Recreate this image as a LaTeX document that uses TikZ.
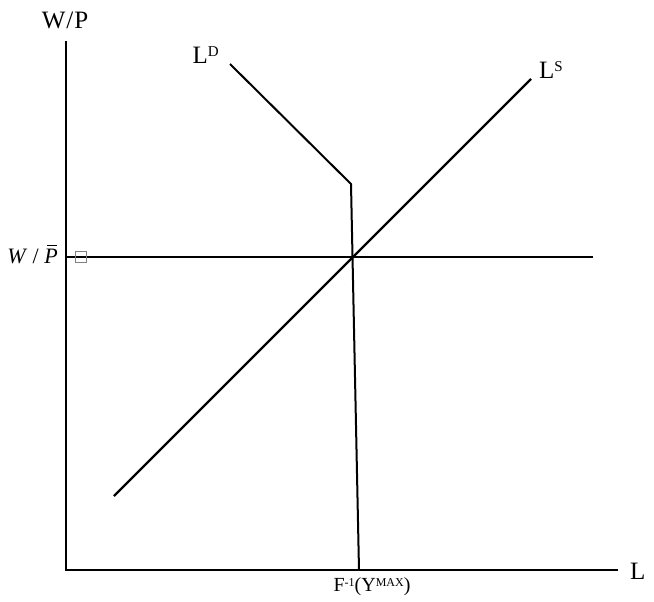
\documentclass[tikz,border=0pt]{standalone}
\usepackage{fontspec}
\setmainfont{Liberation Serif}
\usetikzlibrary{positioning}
% small capital raised so its top meets the capital height
\newcommand{\capsup}[3]{\raisebox{#2}{\fontsize{#1}{#1}\selectfont #3}}
% italic P with a bar drawn over it
\newcommand{\barP}{\ooalign{\textit{P}\cr\hidewidth\kern2pt\raisebox{17pt}{\rule{10pt}{1.2pt}}\hidewidth\cr}}

\begin{document}
\begin{tikzpicture}[x=1pt, y=-1pt, curve/.style={line width=2pt}, lbl/.style={font=\fontsize{25}{27}\selectfont, inner sep=0pt}, small/.style={font=\fontsize{20}{22}\selectfont, inner sep=0pt}]
\path[use as bounding box] (0,0) rectangle (654,602);
\coordinate (O) at (66,570);
\coordinate (Ytop) at (66,41);
\coordinate (Xend) at (618,570);
\coordinate (D0) at (230,64);
\coordinate (D1) at (351,184);
\coordinate (D2) at (359,570);
\coordinate (S0) at (114,496);
\coordinate (S1) at (531,79);
\coordinate (H0) at (66,257);
\coordinate (H1) at (593,257);
% axes
\draw[curve] (Ytop) -- (O) -- (Xend);
\node[lbl] (wp) at (65,20) {W\kern1pt/\kern1pt P};
\node[lbl, anchor=west] (lab) at (630,571) {L};
% labour demand and supply
\draw[curve] (D0) -- (D1) -- (D2);
\draw[curve, line width=2.4pt] (S0) -- (S1);
\draw[curve] (H0) -- (H1);
\node[lbl, anchor=east] (ld) at (219,55) {L\capsup{15}{6.5pt}{D}};
\node[lbl, anchor=west] (ls) at (539,70) {L\capsup{15}{6.5pt}{S}};
\node[font=\fontsize{22}{24}\selectfont, inner sep=0pt, anchor=base east] (wpbar) at (58,263) {\textit{W} / \barP};
\node[draw=gray, minimum size=11pt, inner sep=0pt, line width=0.8pt] (glyph) at (80.5,257) {};
\node[small] (finv) at (372,587) {F\capsup{12}{5pt}{-1}(Y\capsup{12}{5pt}{MAX})};
\end{tikzpicture}
\end{document}
